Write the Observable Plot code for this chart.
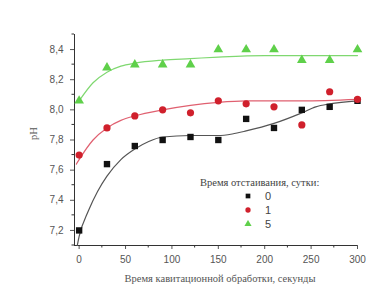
<!DOCTYPE html>
<html><head><meta charset="utf-8">
<script src="https://cdn.jsdelivr.net/npm/d3@7"></script>
<script src="https://cdn.jsdelivr.net/npm/@observablehq/plot@0.6"></script>
<style>
body{margin:0;background:#fff;}
#wrap{position:relative;width:376px;height:294px;}
#legend{position:absolute;left:200px;top:177px;font-family:"Liberation Serif","Times New Roman",serif;font-size:10.5px;color:#444;}
#legend .row{display:flex;align-items:center;height:14px;margin-left:44px;font-family:"Liberation Sans",sans-serif;font-size:11px;color:#444;}
#legend .row svg{margin-right:13px;}
</style></head>
<body><div id="wrap"><div id="legend"></div></div>
<script>
const times = [0,30,60,90,120,150,180,210,240,270,300];
const ph0 = [7.20,7.64,7.76,7.80,7.82,7.80,7.94,7.88,8.00,8.02,8.06];
const ph1 = [7.70,7.88,7.96,8.00,7.98,8.06,8.04,8.02,7.90,8.12,8.07];
const ph5 = [8.06,8.28,8.30,8.30,8.30,8.40,8.40,8.40,8.33,8.33,8.40];

const fitT0 = [-2,0,10,20,30,45,60,75,90,120,150,165,180,210,240,255,270,300];
const fit0  = [7.10,7.16,7.33,7.46,7.56,7.67,7.74,7.79,7.82,7.83,7.83,7.84,7.86,7.91,7.98,8.02,8.04,8.06];
const fitT1 = [-3,0,15,30,45,60,90,120,150,180,240,300];
const fit1  = [7.64,7.67,7.80,7.88,7.93,7.96,8.00,8.03,8.05,8.06,8.06,8.07];
const fitT5 = [0,15,30,45,60,90,120,150,200,300];
const fit5  = [8.06,8.18,8.25,8.29,8.31,8.33,8.34,8.35,8.36,8.36];

const seriesNames = ["0","1","5"];
const colors = ["#111111","#d0202c","#5fd04a"];
const lineColors = ["#555555","#e06070","#7fd870"];
const symbols = ["square","circle","triangle"];

const pts = [];
[ph0,ph1,ph5].forEach((arr,i)=>arr.forEach((v,j)=>pts.push({t:times[j],ph:v,s:seriesNames[i]})));
const fits = [];
[[fitT0,fit0],[fitT1,fit1],[fitT5,fit5]].forEach(([ts,vs],i)=>ts.forEach((t,j)=>fits.push({t,ph:vs[j],s:seriesNames[i]})));

const yTicks = [7.2,7.4,7.6,7.8,8.0,8.2,8.4];
const yMinor = [7.1,7.3,7.5,7.7,7.9,8.1,8.3,8.5];
const xTicks = [0,50,100,150,200,250,300];
const xMinor = [25,75,125,175,225,275];
const fmt = d => d3.format(".1f")(d).replace(".",",");

const plot = Plot.plot({
  width:376, height:294,
  marginLeft:74, marginRight:19, marginTop:34, marginBottom:49,
  style:{fontFamily:"Liberation Sans, sans-serif", fontSize:"10px", color:"#555", background:"#fff"},
  x:{domain:[-5,300], label:null},
  y:{domain:[7.1,8.5], label:null},
  color:{domain:seriesNames, range:colors},
  symbol:{domain:symbols, range:symbols},
  marks:[
    Plot.axisX({ticks:xTicks, tickSize:4, tickPadding:6, tickFormat:d=>d, fontSize:10, fill:"#555"}),
    Plot.axisY({ticks:yTicks, tickSize:4, tickPadding:7, tickFormat:fmt, fontSize:10, fill:"#555"}),
    Plot.ruleY([7.1],{stroke:"#333"}),
    Plot.ruleX([-5],{stroke:"#333"}),
    Plot.line(fits,{x:"t",y:"ph",z:"s",stroke:d=>lineColors[seriesNames.indexOf(d.s)],strokeWidth:1.2,curve:"monotone-x"}),
    Plot.dot(pts,{x:"t",y:"ph",fill:"s",symbol:d=>symbols[seriesNames.indexOf(d.s)],r:3.6,stroke:"none"}),
    Plot.text(["Время кавитационной обработки, секунды"],{frameAnchor:"bottom",dx:4,dy:36,fontFamily:"Liberation Serif, Times New Roman, serif",fontSize:10.5,fill:"#555"}),
    Plot.text(["pH"],{frameAnchor:"left",dx:-41,rotate:-90,fontFamily:"Liberation Serif, Times New Roman, serif",fontSize:10.5,fill:"#555"})
  ]
});
document.getElementById("wrap").prepend(plot);

// minor ticks placed through the plot's scales
const sx = plot.scale("x"), sy = plot.scale("y");
const svg = d3.select(plot);
const g = svg.append("g").attr("stroke","#333");
const x0 = sx.apply(-5), yb = sy.apply(7.1);
xMinor.forEach(v=>g.append("line").attr("x1",sx.apply(v)).attr("x2",sx.apply(v)).attr("y1",yb).attr("y2",yb+2.5));
yMinor.forEach(v=>g.append("line").attr("y1",sy.apply(v)).attr("y2",sy.apply(v)).attr("x1",x0).attr("x2",x0-2.5));

const leg = d3.select("#legend");
leg.append("div").text("Время отстаивания, сутки:").style("margin-bottom","1px");
seriesNames.forEach((n,i)=>{
  const row = leg.append("div").attr("class","row");
  const s = row.append("svg").attr("width",8).attr("height",8);
  s.append("path").attr("transform","translate(4,4)").attr("d",d3.symbol(i===0?d3.symbolSquare:i===1?d3.symbolCircle:d3.symbolTriangle,22)()).attr("fill",colors[i]);
  row.append("span").text(n);
});
</script>
</body></html>
